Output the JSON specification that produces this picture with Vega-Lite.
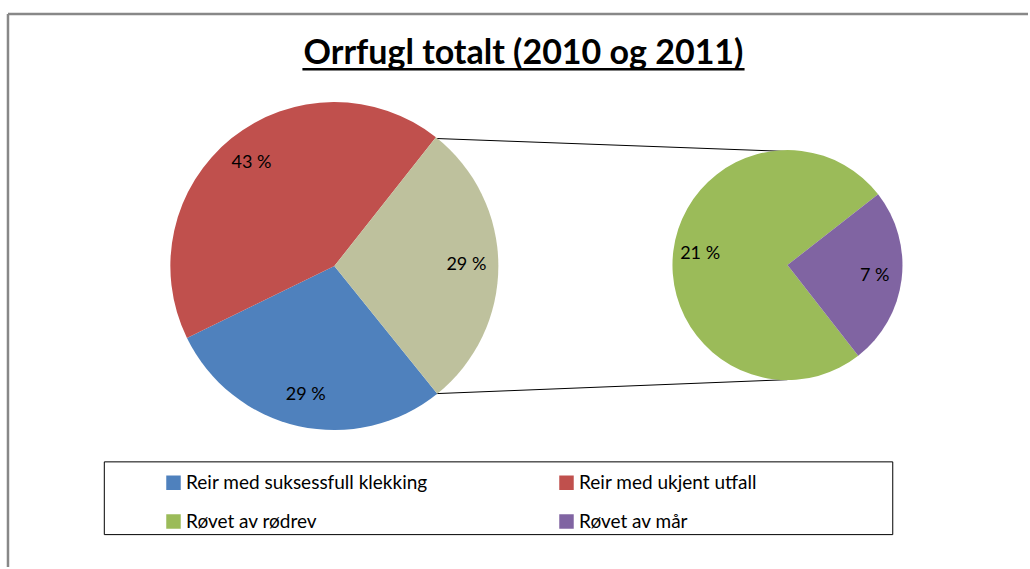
{
  "$schema": "https://vega.github.io/schema/vega-lite/v6.json",
  "width": 1030,
  "height": 569,
  "autosize": {"type": "fit", "contains": "padding"},
  "padding": 0,
  "background": "white",
  "data": {"values": [{}]},
  "config": {"view": {"stroke": null}, "font": "Lato"},
  "resolve": {"scale": {"theta": "independent"}},
  "layer": [
    {
      "mark": {"type": "rule", "color": "#888888", "strokeWidth": 2.5},
      "encoding": {
        "x": {"datum": 8, "type": "quantitative", "scale": {"domain": [0, 1030], "nice": false, "zero": false}, "axis": null},
        "y": {"datum": 14, "type": "quantitative", "scale": {"domain": [0, 569], "nice": false, "zero": false, "reverse": true}, "axis": null},
        "y2": {"datum": 569}
      }
    },
    {
      "mark": {"type": "rule", "color": "#888888", "strokeWidth": 2.5},
      "encoding": {
        "x": {"datum": 8, "type": "quantitative", "axis": null},
        "x2": {"datum": 1030},
        "y": {"datum": 14, "type": "quantitative", "axis": null}
      }
    },
    {
      "mark": {"type": "text", "font": "Lato", "fontWeight": "bold", "fontSize": 34, "baseline": "alphabetic", "align": "center", "color": "black", "text": "Orrfugl totalt (2010 og 2011)"},
      "encoding": {
        "x": {"datum": 524.5, "type": "quantitative", "axis": null},
        "y": {"datum": 64, "type": "quantitative", "axis": null}
      }
    },
    {
      "mark": {"type": "rule", "color": "black", "strokeWidth": 2.5},
      "encoding": {
        "x": {"datum": 303, "type": "quantitative", "axis": null},
        "x2": {"datum": 746},
        "y": {"datum": 69.5, "type": "quantitative", "axis": null}
      }
    },
    {
      "mark": {"type": "rule", "color": "black", "strokeWidth": 1},
      "encoding": {
        "x": {"datum": 437, "type": "quantitative", "axis": null},
        "x2": {"datum": 789},
        "y": {"datum": 139, "type": "quantitative", "axis": null},
        "y2": {"datum": 152}
      }
    },
    {
      "mark": {"type": "rule", "color": "black", "strokeWidth": 1},
      "encoding": {
        "x": {"datum": 437, "type": "quantitative", "axis": null},
        "x2": {"datum": 789},
        "y": {"datum": 395, "type": "quantitative", "axis": null},
        "y2": {"datum": 381}
      }
    },
    {
      "mark": {"type": "rect", "filled": false, "stroke": "black", "strokeWidth": 1},
      "encoding": {
        "x": {"datum": 104.5, "type": "quantitative", "axis": null},
        "x2": {"datum": 894.5},
        "y": {"datum": 463.5, "type": "quantitative", "axis": null},
        "y2": {"datum": 536.5}
      }
    },
    {
      "data": {
        "values": [
          {"kategori": "Reir med suksessfull klekking", "antall": 4, "etikett": "29 %"},
          {"kategori": "Reir med ukjent utfall", "antall": 6, "etikett": "43 %"},
          {"kategori": "Andre", "antall": 4, "etikett": "29 %"}
        ]
      },
      "encoding": {
        "x": {"datum": 335, "type": "quantitative", "axis": null},
        "y": {"datum": 267, "type": "quantitative", "axis": null},
        "theta": {"field": "antall", "type": "quantitative", "stack": true, "scale": {"range": [0.668, 6.9512]}},
        "order": {"field": "kategori", "sort": "ascending"}
      },
      "layer": [
        {
          "mark": {"type": "arc", "outerRadius": 164},
          "encoding": {
            "color": {
              "field": "kategori",
              "type": "nominal",
              "scale": {
                "domain": ["Reir med suksessfull klekking", "Reir med ukjent utfall", "Røvet av rødrev", "Røvet av mår", "Andre"],
                "range": ["#4F81BD", "#C0504D", "#9BBB59", "#8064A2", "#BEC19D"]
              },
              "legend": {
                "orient": "none",
                "direction": "horizontal",
                "legendX": 164,
                "legendY": 473,
                "columns": 2,
                "values": ["Reir med suksessfull klekking", "Reir med ukjent utfall", "Røvet av rødrev", "Røvet av mår"],
                "title": null,
                "symbolType": "square",
                "symbolSize": 210,
                "symbolStrokeWidth": 0,
                "labelFont": "Lato",
                "labelFontSize": 19,
                "labelColor": "black",
                "labelOffset": 3,
                "labelLimit": 400,
                "rowPadding": 19,
                "columnPadding": 129,
                "padding": 0
              }
            }
          }
        },
        {
          "mark": {"type": "text", "radius": 132, "fontSize": 18, "font": "Lato", "color": "black"},
          "encoding": {
            "text": {"field": "etikett", "type": "nominal"},
            "detail": {"field": "kategori", "type": "nominal"}
          }
        }
      ]
    },
    {
      "data": {
        "values": [
          {"kategori": "Røvet av rødrev", "antall": 3, "etikett": "21 %"},
          {"kategori": "Røvet av mår", "antall": 1, "etikett": "7 %"}
        ]
      },
      "encoding": {
        "x": {"datum": 789, "type": "quantitative", "axis": null},
        "y": {"datum": 266, "type": "quantitative", "axis": null},
        "theta": {"field": "antall", "type": "quantitative", "stack": true, "scale": {"range": [0.908, 7.1912]}},
        "order": {"field": "kategori", "sort": "ascending"}
      },
      "layer": [
        {
          "mark": {"type": "arc", "outerRadius": 115},
          "encoding": {
            "color": {"field": "kategori", "type": "nominal"}
          }
        },
        {
          "mark": {"type": "text", "radius": 88, "fontSize": 18, "font": "Lato", "color": "black"},
          "encoding": {
            "text": {"field": "etikett", "type": "nominal"},
            "detail": {"field": "kategori", "type": "nominal"}
          }
        }
      ]
    }
  ]
}
